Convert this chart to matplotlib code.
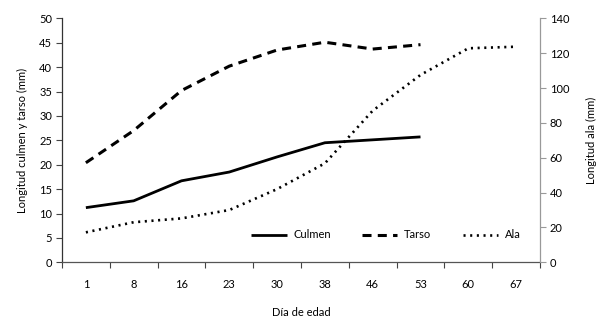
import matplotlib
matplotlib.use("Agg")
import matplotlib.pyplot as plt
import numpy as np

days = ["1", "8", "16", "23", "30", "38", "46", "53", "60", "67"]
culmen = [11.2, 12.6, 16.7, 18.5, 21.6, 24.5, 25.1, 25.7]
tarso = [20.4, 27.0, 35.2, 40.2, 43.5, 45.1, 43.7, 44.6]
ala = [17.2, 23.0, 25.2, 30.0, 42.0, 56.8, 87.0, 107.5, 122.8, 123.7]

plt.rcParams['font.family'] = ['Lato', 'DejaVu Sans']
plt.rcParams['font.size'] = 8
plt.rcParams['lines.scale_dashes'] = False

fig = plt.figure(figsize=(6.0, 3.19), dpi=100)
ax = fig.add_axes([0.1033, 0.1777, 0.7967, 0.7649])
ax2 = ax.twinx()

x = np.arange(len(days))
l1, = ax.plot(x[:len(culmen)], culmen, color='black', lw=2.0, solid_capstyle='butt', label='Culmen')
l2, = ax.plot(x[:len(tarso)], tarso, color='black', lw=2.2, dashes=(6.5, 4.5), dash_capstyle='butt', label='Tarso')
l3, = ax2.plot(x[:len(ala)], ala, color='black', lw=1.9, dashes=(1.5, 3.3), dash_capstyle='butt', label='Ala')

ax.set_xlim(-0.5, len(days) - 0.5)
ax.set_ylim(0, 50)
ax2.set_ylim(0, 140)
ax.set_yticks(np.arange(0, 51, 5))
ax2.set_yticks(np.arange(0, 141, 20))

ax.set_xticks(x)
ax.set_xticklabels(days)
ax.set_xticks(np.arange(-0.5, len(days)), minor=True)
ax.tick_params(axis='x', which='major', length=0, pad=12)
ax.tick_params(axis='x', which='minor', length=4, width=0.8, color='#444444', direction='out')
ax.tick_params(axis='y', length=4, width=0.8, color='#444444', pad=3)
ax2.tick_params(axis='y', length=4, width=0.8, color='#999999', pad=3)

for a in (ax, ax2):
    a.spines['top'].set_visible(False)
ax.spines['left'].set_color('#333333')
ax.spines['bottom'].set_color('#555555')
ax.spines['right'].set_visible(False)
ax2.spines['left'].set_visible(False)
ax2.spines['bottom'].set_visible(False)
ax2.spines['right'].set_color('#999999')
for s in (ax.spines['left'], ax.spines['bottom'], ax2.spines['right']):
    s.set_linewidth(0.9)

ax.set_ylabel('Longitud culmen y tarso (mm)', labelpad=8)
ax2.set_ylabel('Longitud ala (mm)', rotation=90, labelpad=12)
ax.set_xlabel('Día de edad', labelpad=12)

fig.legend(handles=[l1, l2, l3], labels=['Culmen', 'Tarso', 'Ala'], ncol=3,
           frameon=False, loc='center', bbox_to_anchor=(0.643, 1 - 235 / 319),
           handlelength=3.2, handletextpad=0.6, columnspacing=2.8, fontsize=8)

fig.savefig('out.png', dpi=100)
